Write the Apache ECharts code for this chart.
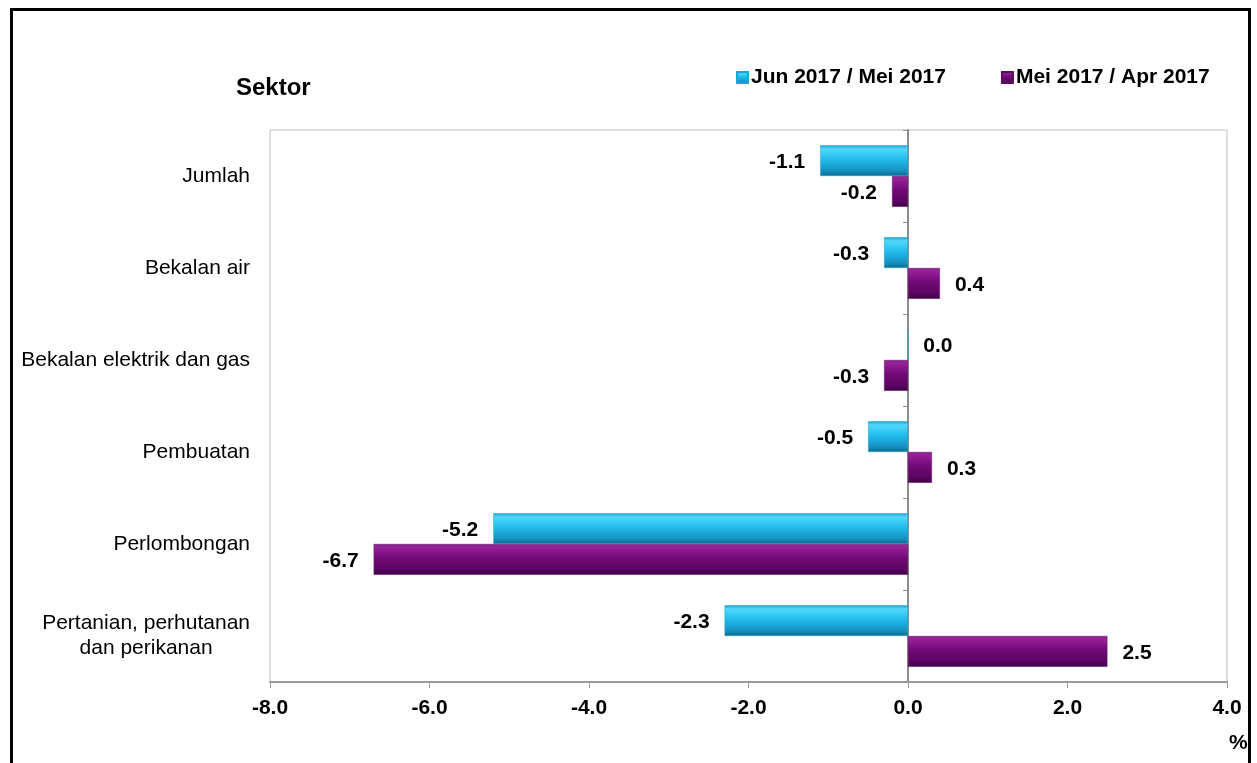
<!DOCTYPE html>
<html>
<head>
<meta charset="utf-8">
<script src="https://cdn.jsdelivr.net/npm/echarts@6/dist/echarts.min.js"></script>
<style>
html,body{margin:0;padding:0;background:#fff;}
#c{width:1257px;height:763px;}
#frame{position:absolute;left:10px;top:8px;width:1241px;height:800px;border:3px solid #000;box-sizing:border-box;pointer-events:none;}
</style>
</head>
<body>
<div id="c"></div>
<div id="frame"></div>
<script>
const categories = ['Jumlah', 'Bekalan air', 'Bekalan elektrik dan gas', 'Pembuatan', 'Perlombongan', 'Pertanian, perhutanan\ndan perikanan'];
const seriesNames = ['Jun 2017 / Mei 2017', 'Mei 2017 / Apr 2017'];
const junMei = [-1.1, -0.3, 0.0, -0.5, -5.2, -2.3];
const meiApr = [-0.2, 0.4, -0.3, 0.3, -6.7, 2.5];
const xTicks = { min: -8, max: 4, interval: 2 };

const font = 'Arial, "Liberation Sans", sans-serif';
const FS = 21;
const cyanGrad = new echarts.graphic.LinearGradient(0, 0, 0, 1, [
  { offset: 0, color: '#1a9dcc' },
  { offset: 0.12, color: '#52d8fa' },
  { offset: 0.45, color: '#22bdec' },
  { offset: 0.8, color: '#1696c6' },
  { offset: 1, color: '#0b6a90' }
]);
const purpGrad = new echarts.graphic.LinearGradient(0, 0, 0, 1, [
  { offset: 0, color: '#8a2a8c' },
  { offset: 0.12, color: '#961f98' },
  { offset: 0.45, color: '#730a76' },
  { offset: 0.8, color: '#5c0662' },
  { offset: 1, color: '#3c0442' }
]);

function mkData(arr) {
  return arr.map(v => ({
    value: v,
    label: { position: v < 0 ? 'left' : 'right' }
  }));
}

const chart = echarts.init(document.getElementById('c'));
chart.setOption({
  animation: false,
  textStyle: { fontFamily: font },
  grid: { left: 270, right: 30, top: 130, bottom: 81, show: true, borderColor: '#bdbdbd', borderWidth: 1, containLabel: false },
  title: [
    { text: 'Sektor', left: 231, top: 71, textStyle: { fontSize: 24, fontWeight: 'bold', color: '#000', fontFamily: font } },
    { text: '%', left: 1224, top: 728, textStyle: { fontSize: 21, fontWeight: 'bold', color: '#000', fontFamily: font } }
  ],
  legend: {
    left: 731, top: 62, itemWidth: 11, itemHeight: 11, itemGap: 55,
    icon: 'rect',
    textStyle: { fontSize: FS, fontWeight: 'bold', color: '#000', fontFamily: font, padding: [0, 0, 0, -2] },
    data: seriesNames
  },
  xAxis: {
    type: 'value', min: xTicks.min, max: xTicks.max, interval: xTicks.interval,
    axisLine: { show: true, onZero: false, lineStyle: { color: '#9a9a9a', width: 2 } },
    axisTick: { show: true, length: 6, lineStyle: { color: '#9a9a9a', width: 1 } },
    splitLine: { show: false },
    axisLabel: { fontSize: FS, fontWeight: 'bold', color: '#000', margin: 16, formatter: v => v.toFixed(1) }
  },
  yAxis: [
    {
      type: 'category', data: categories, inverse: true,
      axisLine: { show: false, onZero: false },
      axisTick: { show: false },
      axisLabel: {
        fontSize: FS, color: '#000', margin: 20, align: 'right', lineHeight: 25,
        formatter: v => v.split('\n').map(s => '{c|' + s + '}').join('\n'),
        rich: { c: { align: 'center', fontSize: FS, color: '#000', lineHeight: 25, fontFamily: font } }
      }
    },
    {
      type: 'category', data: categories, inverse: true, position: 'left',
      axisLine: { show: true, onZero: true, lineStyle: { color: '#8c8c8c', width: 2 } },
      axisTick: { show: true, length: 5, lineStyle: { color: '#8c8c8c' } },
      axisLabel: { show: false }
    }
  ],
  series: [
    {
      name: seriesNames[0], type: 'bar', data: mkData(junMei),
      barGap: '0%', barCategoryGap: '33%',
      itemStyle: { color: cyanGrad, borderColor: '#1aa6d6', borderWidth: 0.5 },
      label: { show: true, distance: 15, fontSize: FS, fontWeight: 'bold', color: '#000', offset: [0, 2], formatter: p => p.value.toFixed(1) }
    },
    {
      name: seriesNames[1], type: 'bar', data: mkData(meiApr),
      barGap: '0%', barCategoryGap: '33%',
      itemStyle: { color: purpGrad, borderColor: '#5e0a62', borderWidth: 0.5 },
      label: { show: true, distance: 15, fontSize: FS, fontWeight: 'bold', color: '#000', offset: [0, 2], formatter: p => p.value.toFixed(1) }
    }
  ]
});
</script>
</body>
</html>
